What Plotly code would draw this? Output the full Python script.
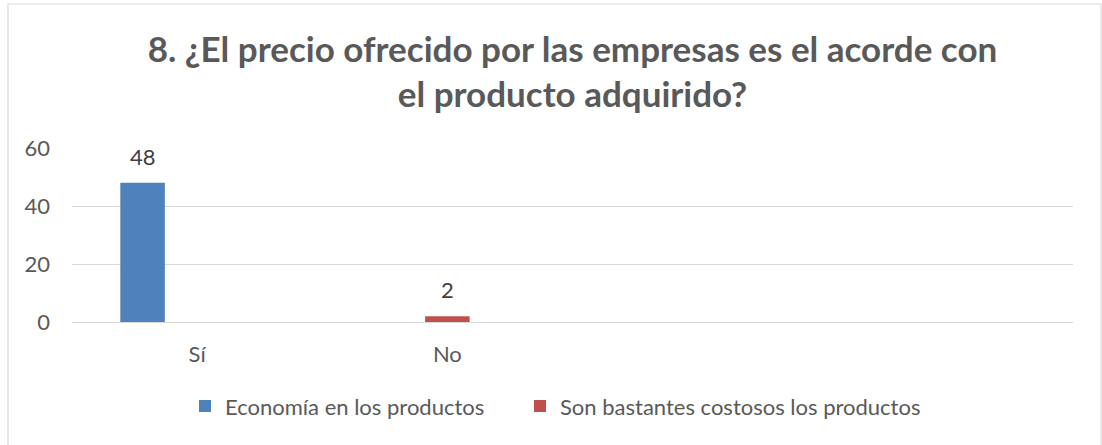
import plotly.graph_objects as go

# Survey question 8: answers per category
categories = ["Sí", "No"]
series_names = ["Economía en los productos", "Son bastantes costosos los productos"]
economia = [48, None]
costosos = [None, 2]
y_ticks = [0, 20, 40, 60]

title_text = "8. ¿El precio ofrecido por las empresas es el acorde con<br>el producto adquirido?"

W, H = 1102, 445
M_L, M_R, M_T, M_B = 72, 29, 148, 123
FONT = "Lato"
TEXT = "#595959"
LABEL = "#404040"
GRID = "#D9D9D9"
BLUE = "#4F81BD"
RED = "#C0504D"
FS = 22

pw = W - M_L - M_R
ph = H - M_T - M_B
n_slots = 4                      # axis spans four category slots
slot_px = pw / n_slots

bar_w = 0.178
offsets = [-0.307, -bar_w / 2]
colors = [BLUE, RED]
series = [economia, costosos]
legend_ids = ["legend", "legend2"]
legend_left_px = [185, 520]      # left edge of each legend entry

fig = go.Figure()
annotations = []
for name, vals, col, off, lg in zip(series_names, series, colors, offsets, legend_ids):
    fig.add_trace(go.Bar(
        x=categories, y=vals, name=name, legend=lg,
        marker=dict(color=col, line=dict(width=0)),
        width=bar_w, offset=off,
    ))
    # value labels above each bar
    for cat, v in zip(categories, vals):
        if v is None:
            continue
        annotations.append(dict(
            x=cat, y=v, xref="x", yref="y", text=str(v), showarrow=False,
            xshift=(off + bar_w / 2) * slot_px, yanchor="bottom", yshift=11,
            font=dict(family=FONT, size=FS, color=LABEL),
        ))

# outer chart frame, expressed in paper units of the plot area
x0 = (8 - M_L) / pw
x1 = (1101 - M_L) / pw
y1 = (H - M_B - 4) / ph
y0 = (H - M_B - 450) / ph

legend_common = dict(
    orientation="h", xanchor="left", xref="paper",
    y=-0.363, yanchor="top",
    font=dict(family=FONT, size=FS, color=TEXT),
    itemwidth=30, bgcolor="rgba(0,0,0,0)",
)

fig.update_layout(
    width=W, height=H,
    margin=dict(l=M_L, r=M_R, t=M_T, b=M_B),
    paper_bgcolor="white", plot_bgcolor="white",
    font=dict(family=FONT, color=TEXT),
    title=dict(
        text=title_text, x=0.5, xanchor="center", xref="paper",
        y=0.861, yanchor="middle", yref="container",
        font=dict(family=FONT, size=35, color=TEXT, weight="bold"),
    ),
    barmode="overlay",
    showlegend=True,
    legend=dict(legend_common, x=(legend_left_px[0] - M_L) / pw),
    legend2=dict(legend_common, x=(legend_left_px[1] - M_L) / pw),
    xaxis=dict(
        type="category", categoryorder="array", categoryarray=categories,
        range=[-0.5, n_slots - 0.5], showgrid=False, showline=False, zeroline=False,
        ticks="", tickfont=dict(family=FONT, size=FS, color=TEXT),
        ticklabelstandoff=17,
    ),
    yaxis=dict(
        range=[0, 60], tickvals=y_ticks, showgrid=True, gridcolor=GRID,
        gridwidth=1.4, zeroline=True, zerolinecolor=GRID, zerolinewidth=1.4,
        showline=False, ticks="", tickfont=dict(family=FONT, size=FS, color=TEXT),
        ticklabelstandoff=21,
    ),
    annotations=annotations,
    shapes=[dict(
        type="rect", xref="paper", yref="paper",
        x0=x0, x1=x1, y0=y0, y1=y1,
        line=dict(color=GRID, width=1.2), fillcolor="rgba(0,0,0,0)", layer="below",
    )],
)

fig.write_html("out.html")
